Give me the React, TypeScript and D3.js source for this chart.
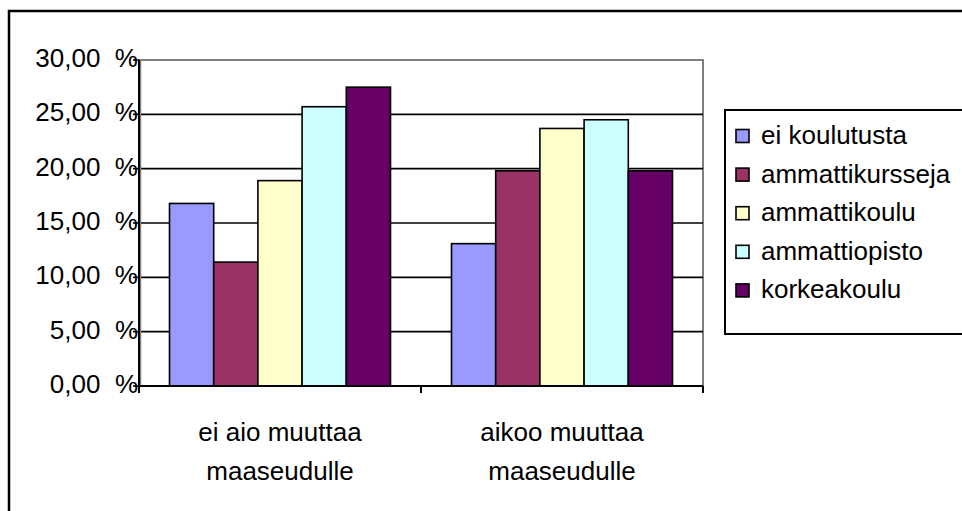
import * as d3 from 'd3';

const categories = ['ei aio muuttaa|maaseudulle', 'aikoo muuttaa|maaseudulle'];
const series = ['ei koulutusta', 'ammattikursseja', 'ammattikoulu', 'ammattiopisto', 'korkeakoulu'];
const colors = ['#9999FF', '#993366', '#FFFFCC', '#CCFFFF', '#660066'];
// values per series, one number per category (percent)
const values = [
  [16.8, 13.1],
  [11.4, 19.8],
  [18.9, 23.7],
  [25.7, 24.5],
  [27.5, 19.8],
];
const yTicks = [0, 5, 10, 15, 20, 25, 30];

const W = 962;
const H = 511;
const left = 139;
const right = 703;
const top = 60;
const bottom = 386;
const font = 'Liberation Sans, Arial, sans-serif';
const fs = 26;

export default function App() {
  const y = d3.scaleLinear().domain([0, 30]).range([bottom, top]);
  const x0 = d3.scaleBand<string>().domain(categories).range([left, right]).padding(0);
  const x1 = d3
    .scaleBand<string>()
    .domain(series)
    .range([0, x0.bandwidth()])
    .paddingInner(0)
    .paddingOuter(0.69);

  const fmt = (v: number) => d3.format('.2f')(v).replace('.', ',') + '  %';

  return (
    <div style={{ position: 'fixed', left: 0, top: 0, width: W, height: H, background: '#fff' }}>
      <svg width={W} height={H} fontFamily={font} style={{ display: 'block' }}>
        <rect x={0} y={0} width={W} height={H} fill="#fff" />
        {/* outer frame */}
        <rect x={9} y={11} width={W + 20} height={H + 20} fill="none" stroke="#000" strokeWidth={2.5} />

        {/* plot border */}
        <rect x={left} y={top} width={right - left} height={bottom - top} fill="none" stroke="#808080" strokeWidth={2} />

        {/* gridlines */}
        {yTicks.filter(t => t > 0 && t < 30).map(t => (
          <line key={t} x1={left} x2={right} y1={y(t)} y2={y(t)} stroke="#000" strokeWidth={1.6} />
        ))}

        {/* bars */}
        {categories.map((c, ci) => (
          <g key={c} transform={`translate(${x0(c)},0)`}>
            {series.map((s, si) => (
              <rect
                key={s}
                x={x1(s)}
                y={y(values[si][ci])}
                width={x1.bandwidth()}
                height={y(0) - y(values[si][ci])}
                fill={colors[si]}
                stroke="#000"
                strokeWidth={1.6}
              />
            ))}
          </g>
        ))}

        {/* y axis */}
        <line x1={left + 1.5} x2={left + 1.5} y1={top} y2={bottom} stroke="#808080" strokeWidth={1.5} />
        <line x1={left} x2={left} y1={top} y2={bottom + 7} stroke="#000" strokeWidth={2} />
        {yTicks.map(t => (
          <g key={t}>
            <line x1={left - 6} x2={left} y1={y(t)} y2={y(t)} stroke="#000" strokeWidth={1.6} />
            <text
              x={left - 1}
              y={y(t) + 7}
              textAnchor="end"
              fontSize={fs}
              fill="#000"
              style={{ whiteSpace: 'pre' }}
            >
              {fmt(t)}
            </text>
          </g>
        ))}

        {/* x axis */}
        <line x1={left} x2={right} y1={bottom} y2={bottom} stroke="#000" strokeWidth={2} />
        {[...categories.map(c => x0(c) as number), right].map((xv, i) => (
          <line key={i} x1={xv} x2={xv} y1={bottom} y2={bottom + 7} stroke="#000" strokeWidth={2} />
        ))}
        {categories.map(c => {
          const cx = (x0(c) as number) + x0.bandwidth() / 2;
          return (
            <text key={c} x={cx} y={441} textAnchor="middle" fontSize={fs} fill="#000" style={{ whiteSpace: 'pre' }}>
              {c.split('|').map((ln, i) => (
                <tspan key={i} x={cx} dy={i === 0 ? 0 : 38.5}>
                  {ln}
                </tspan>
              ))}
            </text>
          );
        })}

        {/* legend */}
        <rect x={725} y={110} width={260} height={224} fill="#fff" stroke="#000" strokeWidth={2} />
        {series.map((s, i) => {
          const cy = 136 + i * 38.6;
          return (
            <g key={s}>
              <rect x={736} y={cy - 6.5} width={13} height={13} fill={colors[i]} stroke="#000" strokeWidth={1.6} />
              <text x={761} y={cy + 8} fontSize={fs} fill="#000" style={{ whiteSpace: 'pre' }}>
                {s}
              </text>
            </g>
          );
        })}
      </svg>
    </div>
  );
}
